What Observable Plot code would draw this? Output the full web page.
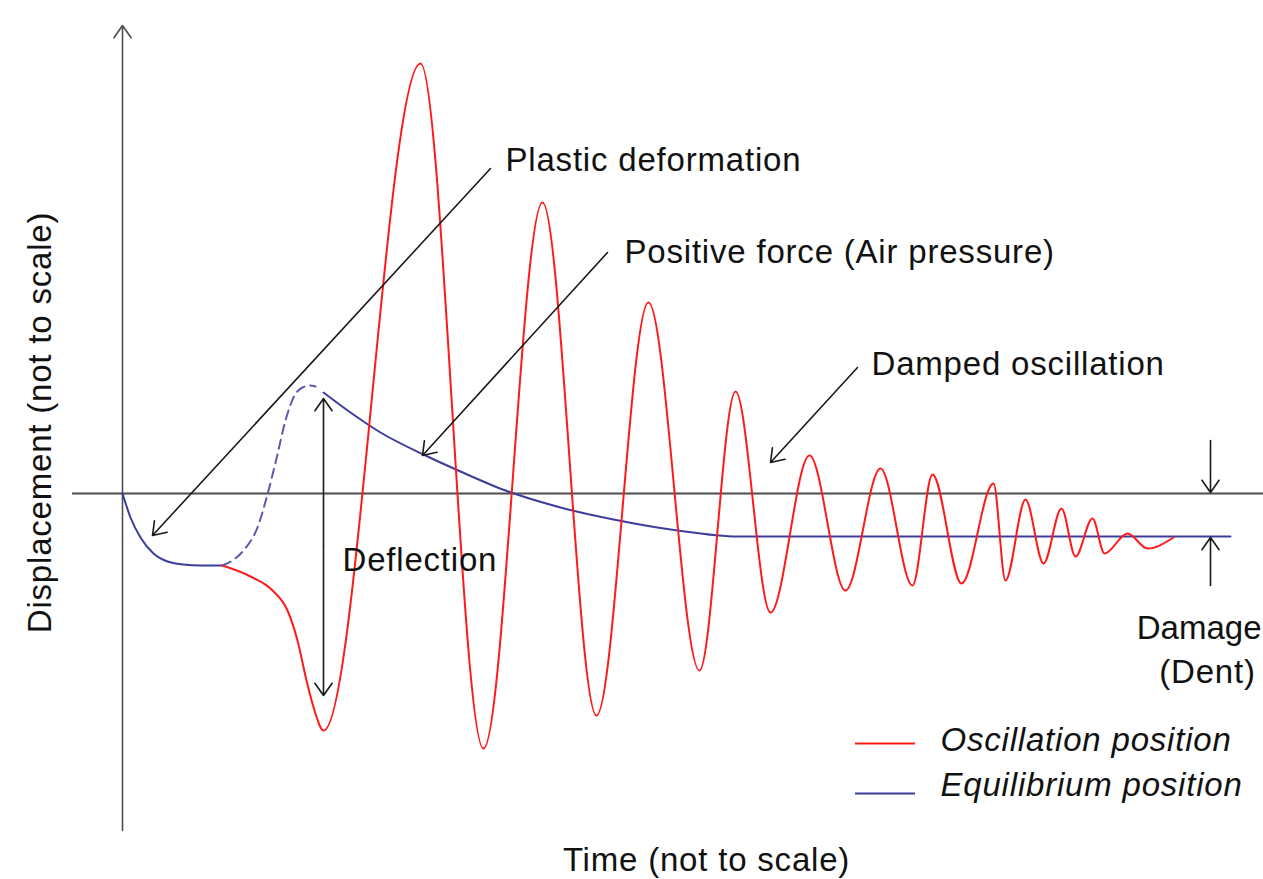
<!DOCTYPE html>
<html>
<head>
<meta charset="utf-8">
<script src="https://cdn.jsdelivr.net/npm/d3@7"></script>
<script src="https://cdn.jsdelivr.net/npm/@observablehq/plot@0.6"></script>
<style>
  html, body { margin: 0; padding: 0; background: #fff; }
  #chart svg { display: block; }
  #chart svg text { letter-spacing: 0.8px; }
</style>
</head>
<body>
<div id="chart"></div>
<script>
// ---- Data (time units, displacement units; not to scale) ----
// Red oscillation position: [time, displacement]
const oscillation = [
  [10.0, -7.2], [12.8, -8.3], [15.0, -9.7], [16.5, -11.7], [17.5, -14.7], [18.4, -18.7],
  [19.2, -21.7], [20.1, -23.7], [29.8, 43.0], [36.1, -25.5], [42.0, 29.1], [47.4, -22.2],
  [52.6, 19.1], [57.7, -17.7], [61.3, 10.2], [64.8, -11.9], [68.7, 3.8], [72.3, -9.7],
  [75.8, 2.5], [79.0, -9.2], [81.0, 1.9], [83.9, -9.0], [87.1, 1.0], [88.3, -8.7],
  [90.3, -0.6], [92.1, -7.0], [93.9, -1.5], [95.3, -6.3], [97.0, -2.5], [98.2, -6.0],
  [100.5, -4.0], [102.5, -5.5], [105.1, -4.4]
];
// Blue equilibrium position, first solid part
const equilibriumStart = [
  [0.0, 0.0], [0.8, -2.4], [1.8, -4.4], [3.1, -6.0], [4.5, -6.8], [6.1, -7.1], [7.8, -7.2], [10.0, -7.2]
];
// Blue equilibrium, dashed transition
const equilibriumDashed = [
  [10.0, -7.2], [11.0, -6.7], [12.1, -5.7], [13.5, -3.4], [14.6, 0.3], [15.4, 3.5],
  [16.3, 7.3], [17.1, 9.6], [18.0, 10.6], [18.8, 10.8], [19.3, 10.7]
];
// Blue equilibrium, after the peak
const equilibriumEnd = [
  [20.1, 10.1], [22.8, 8.1], [25.8, 6.1], [30.3, 3.8], [33.8, 2.2], [38.3, 0.3],
  [43.8, -1.4], [49.1, -2.6], [55.5, -3.7], [61.5, -4.3], [110.8, -4.3]
];
// Annotation arrows: [x1, y1, x2, y2]
const annotationArrows = [
  [36.8, 32.5, 3.0, -4.2],    // Plastic deformation
  [48.5, 24.1, 30.0, 3.8],    // Positive force
  [73.5, 12.6, 64.8, 3.1],    // Damped oscillation
  [20.1, -5.3, 20.1, 9.5],    // Deflection (up)
  [20.1, -5.3, 20.1, -20.2],  // Deflection (down)
  [108.8, 5.3, 108.8, 0.1],   // Damage (down)
  [108.8, -9.2, 108.8, -4.4]  // Damage (up)
];
// Annotation labels: [text, x, y, anchor]
const annotationLabels = [
  ["Plastic deformation", 38.3, 33.3, "start"],
  ["Positive force (Air pressure)", 50.2, 24.1, "start"],
  ["Damped oscillation", 74.9, 12.9, "start"],
  ["Deflection", 22.0, -6.7, "start"],
  ["Damage", 113.9, -13.5, "end"],
  ["(Dent)", 108.5, -17.9, "middle"]
];
// Legend entries
const legendNames = ["Oscillation position", "Equilibrium position"];
const legendColors = ["#ff1a1a", "#3d3d9c"];
const legendY = [-25.0, -30.0];
const legendTextY = [-24.7, -29.2];
const legendX = [73.3, 79.3, 81.8];
// Axis labels
const xAxisLabel = "Time (not to scale)";
const yAxisLabel = "Displacement (not to scale)";

const toObj = a => a.map(([t, d]) => ({t, d}));
const arrows = annotationArrows.map(([x1, y1, x2, y2]) => ({x1, y1, x2, y2}));
const labels = annotationLabels.map(([text, x, y, anchor]) => ({text, x, y, anchor}));
const legend = legendNames.map((name, i) => ({name, color: legendColors[i], y: legendY[i], ty: legendTextY[i]}));

const FONT = "'Liberation Sans', Arial, Helvetica, sans-serif";
const FS = 33;

const chart = Plot.plot({
  width: 1263,
  height: 879,
  margin: 0,
  style: {background: "#fff", fontFamily: FONT},
  x: {domain: [-12.2, 114.1], axis: null},
  y: {domain: [-38.6, 49.3], axis: null},
  marks: [
    // horizontal baseline
    Plot.ruleY([0], {x1: -5, x2: 114.1, stroke: "#4d4d4d", strokeWidth: 1.8}),
    // vertical axis with arrow
    Plot.arrow([{x1: 0, y1: -33.7, x2: 0, y2: 46.8}], {x1: "x1", y1: "y1", x2: "x2", y2: "y2", stroke: "#4d4d4d", strokeWidth: 1.6, headLength: 14, headAngle: 70}),
    // equilibrium
    Plot.line(toObj(equilibriumStart), {x: "t", y: "d", stroke: legendColors[1], strokeWidth: 2, curve: "monotone-x"}),
    Plot.line(toObj(equilibriumDashed), {x: "t", y: "d", stroke: "#5a5aae", strokeWidth: 2, strokeDasharray: "9,6", curve: "monotone-x"}),
    Plot.line(toObj(equilibriumEnd), {x: "t", y: "d", stroke: legendColors[1], strokeWidth: 2, curve: "monotone-x"}),
    // oscillation
    Plot.line(toObj(oscillation), {x: "t", y: "d", stroke: legendColors[0], strokeWidth: 2, curve: "monotone-x"}),
    // annotation arrows
    Plot.arrow(arrows, {x1: "x1", y1: "y1", x2: "x2", y2: "y2", stroke: "#1a1a1a", strokeWidth: 1.6, headLength: 14, headAngle: 70}),
    // annotation labels
    Plot.text(labels.filter(d => d.anchor === "start"), {x: "x", y: "y", text: "text", textAnchor: "start", lineAnchor: "middle", fontSize: FS, fill: "#111"}),
    Plot.text(labels.filter(d => d.anchor === "middle"), {x: "x", y: "y", text: "text", textAnchor: "middle", lineAnchor: "middle", fontSize: FS, fill: "#111"}),
    Plot.text(labels.filter(d => d.anchor === "end"), {x: "x", y: "y", text: "text", textAnchor: "end", lineAnchor: "middle", fontSize: FS, fill: "#111"}),
    // legend
    Plot.ruleY(legend, {y: "y", x1: legendX[0], x2: legendX[1], stroke: "color", strokeWidth: 2}),
    Plot.text(legend, {x: legendX[2], y: "ty", text: "name", textAnchor: "start", lineAnchor: "middle", fontSize: FS, fontStyle: "italic", fill: "#111"}),
    // axis labels
    Plot.text([xAxisLabel], {x: 58.4, y: -36.7, text: d => d, textAnchor: "middle", lineAnchor: "middle", fontSize: FS, fill: "#111"}),
    Plot.text([yAxisLabel], {x: -8.2, y: 7.1, text: d => d, rotate: -90, textAnchor: "middle", lineAnchor: "middle", fontSize: FS, fill: "#111"})
  ]
});
d3.select(chart).selectAll("text")
  .filter(function() { return this.textContent === "Damage"; })
  .style("letter-spacing", "0px");
document.getElementById("chart").appendChild(chart);
</script>
</body>
</html>
